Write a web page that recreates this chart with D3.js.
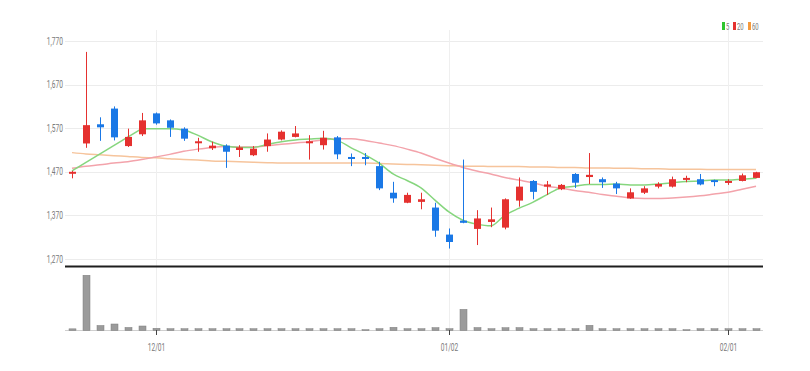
<!DOCTYPE html>
<html>
<head>
<meta charset="utf-8">
<script src="https://cdn.jsdelivr.net/npm/d3@7"></script>
<style>
  body { margin: 0; background: #fff; }
  svg { display: block; }
  .lbl { font-family: Roboto, "DejaVu Sans", sans-serif; font-size: 10px; fill: #7a7a7a; }
</style>
</head>
<body>
<svg id="chart" width="810" height="371"></svg>
<script>
// trading days shown
var dates = ["11/23","11/24","11/25","11/28","11/29","11/30","12/01","12/02","12/05","12/06",
  "12/07","12/08","12/09","12/12","12/13","12/14","12/15","12/16","12/19","12/20",
  "12/21","12/22","12/23","12/26","12/27","12/28","12/29","01/02","01/03","01/04",
  "01/05","01/06","01/09","01/10","01/11","01/12","01/13","01/16","01/17","01/18",
  "01/19","01/20","01/25","01/26","01/27","01/30","01/31","02/01","02/02","02/03"];

var opens = [1466,1535,1579,1615,1529,1556,1604,1588,1569,1536,
  1524,1530,1520,1508,1529,1544,1550,1537,1531,1549,
  1504,1504,1483,1422,1399,1401,1388,1326,1358,1339,
  1355,1342,1404,1449,1436,1430,1465,1458,1453,1443,
  1409,1422,1436,1436,1452,1453,1451,1445,1449,1456];
var highs = [1472,1745,1595,1620,1569,1605,1606,1590,1572,1548,
  1539,1533,1531,1529,1558,1565,1575,1554,1564,1552,
  1512,1513,1493,1447,1422,1422,1399,1340,1498,1382,
  1388,1409,1457,1451,1449,1442,1467,1513,1457,1447,
  1432,1437,1446,1459,1461,1465,1452,1453,1466,1470];
var lows = [1455,1525,1541,1542,1527,1552,1578,1550,1541,1516,
  1520,1479,1504,1506,1516,1542,1549,1498,1521,1499,
  1483,1485,1428,1399,1398,1384,1321,1294,1352,1302,
  1343,1338,1390,1407,1417,1428,1433,1442,1433,1419,
  1408,1419,1432,1434,1446,1439,1437,1440,1448,1455];
var closes = [1470,1577,1572,1549,1550,1588,1581,1571,1546,1540,
  1530,1516,1526,1523,1544,1562,1558,1540,1548,1510,
  1500,1500,1432,1409,1417,1407,1335,1309,1353,1363,
  1361,1407,1436,1424,1441,1440,1445,1463,1446,1432,
  1423,1432,1442,1453,1456,1441,1447,1449,1462,1469];

// volume (thousand shares)
var volumes = [110,5200,425,570,240,380,160,120,120,120,
  120,120,120,120,120,120,120,120,120,120,
  120,30,120,255,120,120,220,120,1960,230,
  120,215,225,120,120,120,120,445,120,120,
  120,120,120,120,30,120,120,120,120,120];

// moving averages
var ma5 = [1472,null,null,null,null,1569,1569,1569,1566,1554,
  1539,1529,1526,1526,1533,1539,1543,1545,1547,1542,
  1525,1509,1490,1465,1450,1433,1405,1378,1359,1350,
  1346,1370,1386,1400,1417,1433,1437,1441,1441,1442,
  1440,1440,1442,1445,1448,1449,1451,1451,1453,1455];
var ma20 = [1478,1483,1486,1490,1493,1498,1504,1510,1517,1522,
  1526,1528,1527,1527,1530,1533,1536,1539,1543,1546,
  1546,1542,1536,1530,1522,1513,1501,1490,1480,1472,
  1465,1457,1451,1445,1437,1433,1427,1423,1418,1414,
  1410,1409,1409,1410,1412,1415,1419,1423,1430,1437];
var ma60 = [1514,1511,1509,1507,1505,1503,1502,1500,1498,1497,
  1495,1494,1493,1492,1491,1490,1490,1490,1490,1490,
  1490,1490,1489,1488,1487,1486,1485,1484,1483,1483,
  1482,1482,1482,1481,1481,1480,1480,1479,1479,1478,
  1478,1477,1477,1476,1476,1476,1475,1475,1475,1475];

var priceTicks = [1270,1370,1470,1570,1670,1770];
var dateTicks = ["12/01","01/02","02/01"];
var maNames = ["5","20","60"];

var upColor = "#e5312f", downColor = "#1a78e6";
var maColors = ["#86d67e","#f3a3ab","#f6c49c"];
var legendColors = ["#2fc52f","#e5312f","#f59a3c"];

var left = 65, right = 763;
var svg = d3.select("#chart");

var x = d3.scaleBand().domain(dates).range([left, right]).paddingInner(0.5).paddingOuter(0.25);
var y = d3.scaleLinear().domain([1270, 1770]).range([259, 41]);
var yVol = d3.scaleLinear().domain([0, d3.max(volumes) * 1.06]).range([330, 272]);
var cx = function (d) { return x(d) + x.bandwidth() / 2; };

// grid
svg.append("g").selectAll("line").data(priceTicks).join("line")
  .attr("x1", left).attr("x2", right)
  .attr("y1", function (d) { return Math.round(y(d)) + 0.5; })
  .attr("y2", function (d) { return Math.round(y(d)) + 0.5; })
  .attr("stroke", "#ececec");
svg.append("g").selectAll("line").data(dateTicks).join("line")
  .attr("x1", function (d) { return Math.round(cx(d)) + 0.5; })
  .attr("x2", function (d) { return Math.round(cx(d)) + 0.5; })
  .attr("y1", 30).attr("y2", 330)
  .attr("stroke", "#efefef");

// y labels (narrow)
svg.append("g").selectAll("text").data(priceTicks).join("text")
  .attr("class", "lbl")
  .attr("transform", function (d) { return "translate(63," + (y(d) + 3.5) + ") scale(0.66,1)"; })
  .attr("text-anchor", "end")
  .text(function (d) { return d3.format(",")(d); });

// moving averages: smooth runs, straight joins over missing values
var series = [ma60, ma20, ma5];
var colors = [maColors[2], maColors[1], maColors[0]];
var smooth = d3.line().x(function (p) { return p[0]; }).y(function (p) { return y(p[1]); })
  .curve(d3.curveMonotoneX);
var straight = d3.line().x(function (p) { return p[0]; }).y(function (p) { return y(p[1]); });
series.forEach(function (s, k) {
  var pts = dates.map(function (d, i) { return [cx(d), s[i], i]; })
    .filter(function (p) { return p[1] != null; });
  var runs = [[pts[0]]];
  for (var j = 1; j < pts.length; j++) {
    if (pts[j][2] - pts[j - 1][2] > 1) {
      svg.append("path").attr("d", straight([pts[j - 1], pts[j]]))
        .attr("fill", "none").attr("stroke", colors[k]).attr("stroke-width", 1.5);
      runs.push([pts[j]]);
    } else runs[runs.length - 1].push(pts[j]);
  }
  runs.forEach(function (r) {
    if (r.length < 2) return;
    svg.append("path").attr("d", smooth(r))
      .attr("fill", "none").attr("stroke", colors[k]).attr("stroke-width", 1.5);
  });
});

// candles
var idx = d3.range(dates.length);
var candle = svg.append("g").selectAll("g").data(idx).join("g");
var col = function (i) { return closes[i] >= opens[i] ? upColor : downColor; };
candle.append("line")
  .attr("x1", function (i) { return Math.round(cx(dates[i])) + 0.5; })
  .attr("x2", function (i) { return Math.round(cx(dates[i])) + 0.5; })
  .attr("y1", function (i) { return y(highs[i]); })
  .attr("y2", function (i) { return y(lows[i]); })
  .attr("stroke", col);
candle.append("rect")
  .attr("x", function (i) { return Math.round(cx(dates[i])) + 0.5 - 3.5; })
  .attr("width", 7)
  .attr("y", function (i) { return y(Math.max(opens[i], closes[i])); })
  .attr("height", function (i) { return Math.max(2, Math.abs(y(opens[i]) - y(closes[i]))); })
  .attr("fill", col);

// separator
svg.append("line").attr("x1", left).attr("x2", right).attr("y1", 266.5).attr("y2", 266.5)
  .attr("stroke", "#1e1e1e").attr("stroke-width", 2);

// volume
svg.append("line").attr("x1", left).attr("x2", right).attr("y1", 330.5).attr("y2", 330.5)
  .attr("stroke", "#cfcfcf");
svg.append("g").selectAll("rect").data(idx).join("rect")
  .attr("x", function (i) { return Math.round(cx(dates[i])) + 0.5 - 3.5; })
  .attr("width", 7)
  .attr("y", function (i) { return yVol(volumes[i]); })
  .attr("height", function (i) { return 330.5 - yVol(volumes[i]); })
  .attr("fill", "#9b9b9b").attr("stroke", "#7d7d7d").attr("stroke-width", 0.5);

// x ticks and labels
var xt = svg.append("g").selectAll("g").data(dateTicks).join("g")
  .attr("transform", function (d) { return "translate(" + (Math.round(cx(d)) + 0.5) + ",0)"; });
xt.append("line").attr("y1", 330).attr("y2", 335).attr("stroke", "#444");
xt.append("text").attr("class", "lbl")
  .attr("transform", "translate(0,351) scale(0.66,1)")
  .attr("text-anchor", "middle")
  .text(function (d) { return d; });

// legend
var lg = svg.append("g").attr("transform", "translate(722,22)");
var lx = 0;
maNames.forEach(function (n, k) {
  lg.append("rect").attr("x", lx).attr("y", 0).attr("width", 3).attr("height", 8).attr("fill", legendColors[k]);
  lg.append("text").attr("class", "lbl").style("font-size", "9px")
    .attr("transform", "translate(" + (lx + 4) + ",8) scale(0.66,1)").text(n);
  lx += n.length === 1 ? 11 : 15;
});
</script>
</body>
</html>
